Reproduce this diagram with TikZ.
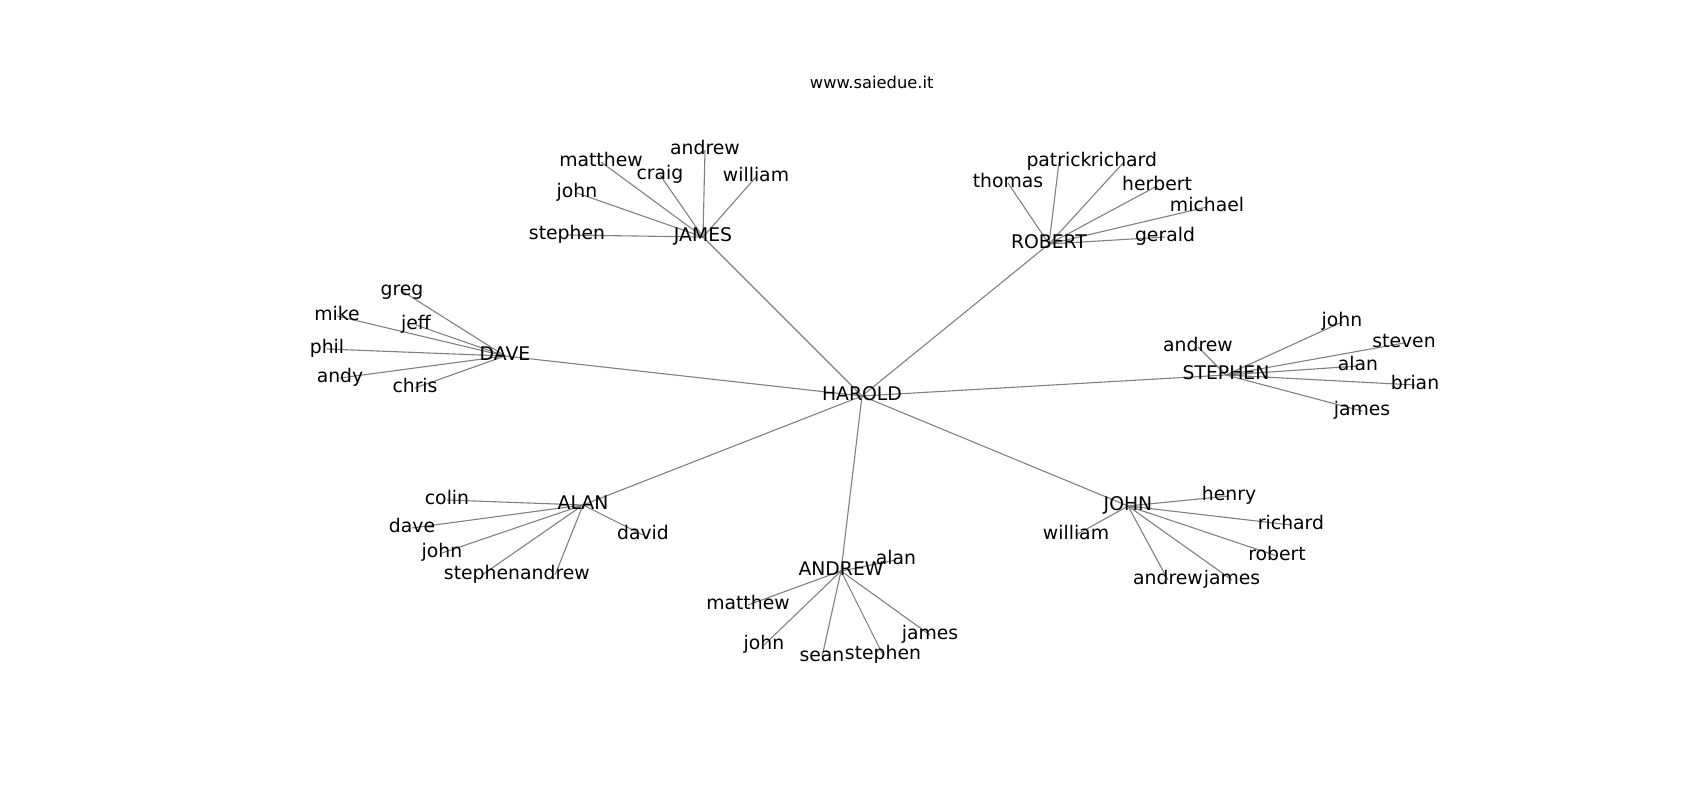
\documentclass[tikz,border=0pt]{standalone}
\usepackage{fontspec}
\setmainfont{DejaVu Sans}
\pgfdeclarelayer{background}
\pgfsetlayers{background,main}
\begin{document}
\begin{tikzpicture}[x=1pt,y=-1pt,
  lbl/.style={inner sep=0pt,font=\fontsize{18.8}{20}\selectfont,text height=0.88em,text depth=0.08em},
  edge/.style={draw=black!50,line width=1.1pt}]
\useasboundingbox (0,0) rectangle (1700,800);
\node[inner sep=0pt,anchor=base,font=\fontsize{16.3}{18}\selectfont] (title) at (871.7,88.3) {www.saiedue.it};
% hub
\node[lbl] (harold) at (862,396) {HAROLD};
\node[lbl] (james) at (703,237) {JAMES};
\node[lbl] (robert) at (1049,244) {ROBERT};
\node[lbl] (dave) at (505,356) {DAVE};
\node[lbl] (stephen) at (1226,375) {STEPHEN};
\node[lbl] (alan) at (583,505) {ALAN};
\node[lbl] (andrew) at (841,571) {ANDREW};
\node[lbl] (john) at (1128,506) {JOHN};
% JAMES children
\node[lbl] (ja1) at (567,235) {stephen};
\node[lbl] (ja2) at (577,193) {john};
\node[lbl] (ja3) at (601,162) {matthew};
\node[lbl] (ja4) at (660,175) {craig};
\node[lbl] (ja5) at (705,150) {andrew};
\node[lbl] (ja6) at (756,177) {william};
% ROBERT children
\node[lbl] (ro1) at (1008,183) {thomas};
\node[lbl] (ro2) at (1059,162) {patrick};
\node[lbl] (ro3) at (1124,162) {richard};
\node[lbl] (ro4) at (1157,186) {herbert};
\node[lbl] (ro5) at (1207,207) {michael};
\node[lbl] (ro6) at (1165,237) {gerald};
% DAVE children
\node[lbl] (da1) at (402,291) {greg};
\node[lbl] (da2) at (337,316) {mike};
\node[lbl] (da3) at (416,325) {jeff};
\node[lbl] (da4) at (327,349) {phil};
\node[lbl] (da5) at (340,378) {andy};
\node[lbl] (da6) at (415,388) {chris};
% STEPHEN children
\node[lbl] (st1) at (1198,347) {andrew};
\node[lbl] (st2) at (1342,322) {john};
\node[lbl] (st3) at (1404,343) {steven};
\node[lbl] (st4) at (1358,366) {alan};
\node[lbl] (st5) at (1415,385) {brian};
\node[lbl] (st6) at (1362,411) {james};
% ALAN children
\node[lbl] (al1) at (447,500) {colin};
\node[lbl] (al2) at (412,528) {dave};
\node[lbl] (al3) at (442,553) {john};
\node[lbl] (al4) at (482,575) {stephen};
\node[lbl] (al5) at (555,575) {andrew};
\node[lbl] (al6) at (643,535) {david};
% ANDREW children
\node[lbl] (an1) at (896,560) {alan};
\node[lbl] (an2) at (748,605) {matthew};
\node[lbl] (an3) at (764,645) {john};
\node[lbl] (an4) at (822,657) {sean};
\node[lbl] (an5) at (883,655) {stephen};
\node[lbl] (an6) at (930,635) {james};
% JOHN children
\node[lbl] (jo1) at (1229,496) {henry};
\node[lbl] (jo2) at (1291,525) {richard};
\node[lbl] (jo3) at (1076,535) {william};
\node[lbl] (jo4) at (1277,556) {robert};
\node[lbl] (jo5) at (1168,580) {andrew};
\node[lbl] (jo6) at (1232,580) {james};
\begin{pgfonlayer}{background}
\foreach \c in {james,robert,dave,stephen,alan,andrew,john}
  \draw[edge] (harold.center) -- (\c.center);
\foreach \c in {ja1,ja2,ja3,ja4,ja5,ja6}
  \draw[edge] (james.center) -- (\c.center);
\foreach \c in {ro1,ro2,ro3,ro4,ro5,ro6}
  \draw[edge] (robert.center) -- (\c.center);
\foreach \c in {da1,da2,da3,da4,da5,da6}
  \draw[edge] (dave.center) -- (\c.center);
\foreach \c in {st1,st2,st3,st4,st5,st6}
  \draw[edge] (stephen.center) -- (\c.center);
\foreach \c in {al1,al2,al3,al4,al5,al6}
  \draw[edge] (alan.center) -- (\c.center);
\foreach \c in {an1,an2,an3,an4,an5,an6}
  \draw[edge] (andrew.center) -- (\c.center);
\foreach \c in {jo1,jo2,jo3,jo4,jo5,jo6}
  \draw[edge] (john.center) -- (\c.center);
\end{pgfonlayer}
\end{tikzpicture}
\end{document}
